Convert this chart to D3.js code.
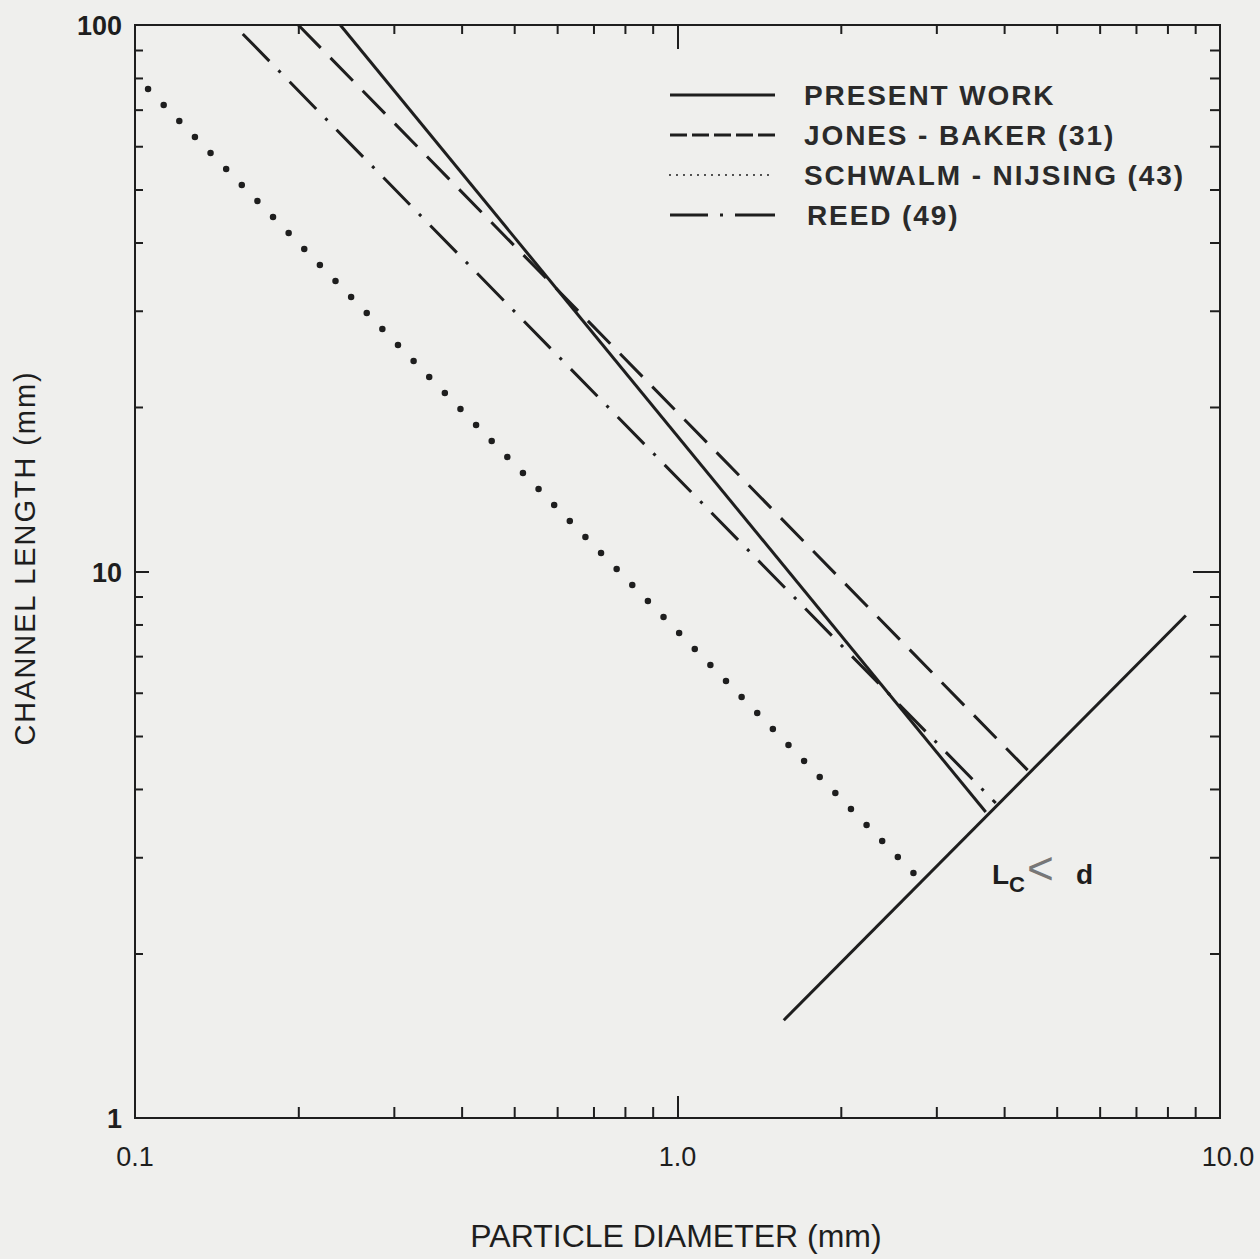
<!DOCTYPE html>
<html>
<head>
<meta charset="utf-8">
<script src="https://cdn.jsdelivr.net/npm/d3@7"></script>
<style>
  body { margin: 0; background: #efefed; }
  svg { display: block; }
</style>
</head>
<body>
<svg id="chart" width="1260" height="1259"></svg>
<script>
// values (mm)
const presentD = [0.239, 3.70];
const presentL = [100, 3.63];
const jonesD = [0.20, 4.42];
const jonesL = [100, 4.33];
const schwalmD = [0.1057, 2.73];
const schwalmL = [76.4, 2.80];
const reedD = [0.158, 3.86];
const reedL = [96.3, 3.77];
const limitD = [1.57, 8.65];
const limitL = [1.51, 8.31];

const legendNames = ["PRESENT WORK", "JONES - BAKER (31)", "SCHWALM - NIJSING (43)", "REED (49)"];

const xMajor = [0.1, 1, 10];
const xMajorLabels = ["0.1", "1.0", "10.0"];
const xMinor = [0.2, 0.3, 0.4, 0.5, 0.6, 0.7, 0.8, 0.9, 2, 3, 4, 5, 6, 7, 8, 9];
const yMajor = [1, 10, 100];
const yMajorLabels = ["1", "10", "100"];
const yMinor = [2, 3, 4, 5, 6, 7, 8, 9, 20, 30, 40, 50, 60, 70, 80, 90];

const ink = "#1e1e1e";
const plotLeft = 135, plotRight = 1220, plotTop = 25, plotBottom = 1118;

const x = d3.scaleLog().domain([0.1, 10]).range([plotLeft, plotRight]);
const y = d3.scaleLog().domain([1, 100]).range([plotBottom, plotTop]);

const svg = d3.select("#chart");

// frame
svg.append("rect")
    .attr("x", plotLeft).attr("y", plotTop)
    .attr("width", plotRight - plotLeft).attr("height", plotBottom - plotTop)
    .attr("fill", "none").attr("stroke", ink).attr("stroke-width", 2);

// inward ticks on all four sides
function ticks(axis, vals, size, transform) {
    const g = svg.append("g")
        .attr("transform", transform)
        .call(axis.tickValues(vals).tickSizeInner(-size).tickSizeOuter(0).tickFormat(""));
    g.select(".domain").remove();
    g.selectAll("line").attr("stroke", ink).attr("stroke-width", 2);
}
ticks(d3.axisBottom(x), xMinor, 11, `translate(0,${plotBottom})`);
ticks(d3.axisBottom(x), [1], 22, `translate(0,${plotBottom})`);
ticks(d3.axisTop(x), xMinor, 9, `translate(0,${plotTop})`);
ticks(d3.axisTop(x), [1], 24, `translate(0,${plotTop})`);
ticks(d3.axisLeft(y), yMinor, 8, `translate(${plotLeft},0)`);
ticks(d3.axisLeft(y), [10], 14, `translate(${plotLeft},0)`);
ticks(d3.axisRight(y), yMinor, 10, `translate(${plotRight},0)`);
ticks(d3.axisRight(y), [10], 27, `translate(${plotRight},0)`);

// tick labels
svg.append("g").selectAll("text")
    .data(xMajor)
    .join("text")
    .attr("x", (d, i) => x(d) + (i === 2 ? 8 : 0))
    .attr("y", 1166)
    .attr("text-anchor", "middle")
    .attr("font-family", "'Liberation Sans', Arial, sans-serif")
    .attr("font-size", 27)
    .attr("fill", ink)
    .text((d, i) => xMajorLabels[i]);

svg.append("g").selectAll("text")
    .data(yMajor)
    .join("text")
    .attr("x", 122)
    .attr("y", d => y(d) + 10)
    .attr("text-anchor", "end")
    .attr("font-family", "'Liberation Sans', Arial, sans-serif")
    .attr("font-weight", "bold")
    .attr("font-size", 27)
    .attr("fill", ink)
    .text((d, i) => yMajorLabels[i]);

// axis titles
svg.append("text")
    .attr("x", 676).attr("y", 1247)
    .attr("text-anchor", "middle")
    .attr("font-family", "'Liberation Sans', Arial, sans-serif")
    .attr("font-size", 32)
    .attr("fill", ink)
    .text("PARTICLE DIAMETER (mm)");

svg.append("text")
    .attr("transform", "translate(35,558) rotate(-90)")
    .attr("text-anchor", "middle")
    .attr("font-family", "'Liberation Sans', Arial, sans-serif")
    .attr("font-size", 29)
    .attr("letter-spacing", 1.9)
    .attr("fill", ink)
    .text("CHANNEL LENGTH (mm)");

// curves
const line = d3.line().x(d => x(d[0])).y(d => y(d[1]));
const series = [
    { d: presentD, l: presentL, dash: null, cap: "butt" },
    { d: jonesD, l: jonesL, dash: "32 14", cap: "butt" },
    { d: schwalmD, l: schwalmL, dash: "dots", cap: "round", w: 6.5 },
    { d: reedD, l: reedL, dash: "38 13 3 13", cap: "butt" }
];

svg.append("g").selectAll("path")
    .data(series)
    .join("path")
    .attr("d", s => line(d3.zip(s.d, s.l)))
    .attr("fill", "none")
    .attr("stroke", ink)
    .attr("stroke-width", s => s.w || 3)
    .attr("stroke-linecap", s => s.cap)
    .attr("stroke-dasharray", function (s) {
        if (s.dash !== "dots") return s.dash;
        // space the dots so one lands on each end
        const len = this.getTotalLength();
        return `0 ${len / Math.round(len / 22.5) - 0.02}`;
    });

// L = d boundary
svg.append("path")
    .attr("d", line(d3.zip(limitD, limitL)))
    .attr("fill", "none")
    .attr("stroke", ink)
    .attr("stroke-width", 3);

// legend
const legend = svg.append("g").attr("transform", "translate(670,95)");
const legendDash = [null, "17 5", "0 7", "38 12 3 12 40"];
const item = legend.selectAll("g")
    .data(legendNames)
    .join("g")
    .attr("transform", (d, i) => `translate(0,${i * 40})`);
item.append("line")
    .attr("x1", 0).attr("x2", 105)
    .attr("stroke", ink)
    .attr("stroke-width", (d, i) => i === 2 ? 2 : 3)
    .attr("stroke-linecap", (d, i) => i === 2 ? "round" : "butt")
    .attr("stroke-dasharray", (d, i) => legendDash[i]);
item.append("text")
    .attr("x", (d, i) => i === 3 ? 137 : 134)
    .attr("y", 10)
    .attr("font-family", "'Liberation Sans', Arial, sans-serif")
    .attr("font-weight", "bold")
    .attr("font-size", 28)
    .attr("letter-spacing", 1.9)
    .attr("fill", "#2a2a2a")
    .text(d => d);

// Lc < d annotation
const note = svg.append("text")
    .attr("x", 992).attr("y", 884)
    .attr("font-family", "'Liberation Sans', Arial, sans-serif")
    .attr("font-weight", "bold")
    .attr("font-size", 28)
    .attr("fill", ink);
note.append("tspan").text("L");
note.append("tspan").attr("dy", 8).attr("font-size", 22).text("C");
note.append("tspan").attr("dy", -8).attr("font-weight", "normal").attr("font-size", 46)
    .attr("fill", "#777").attr("dx", 2).text("<");
note.append("tspan").attr("dx", 22).text("d");
</script>
</body>
</html>
